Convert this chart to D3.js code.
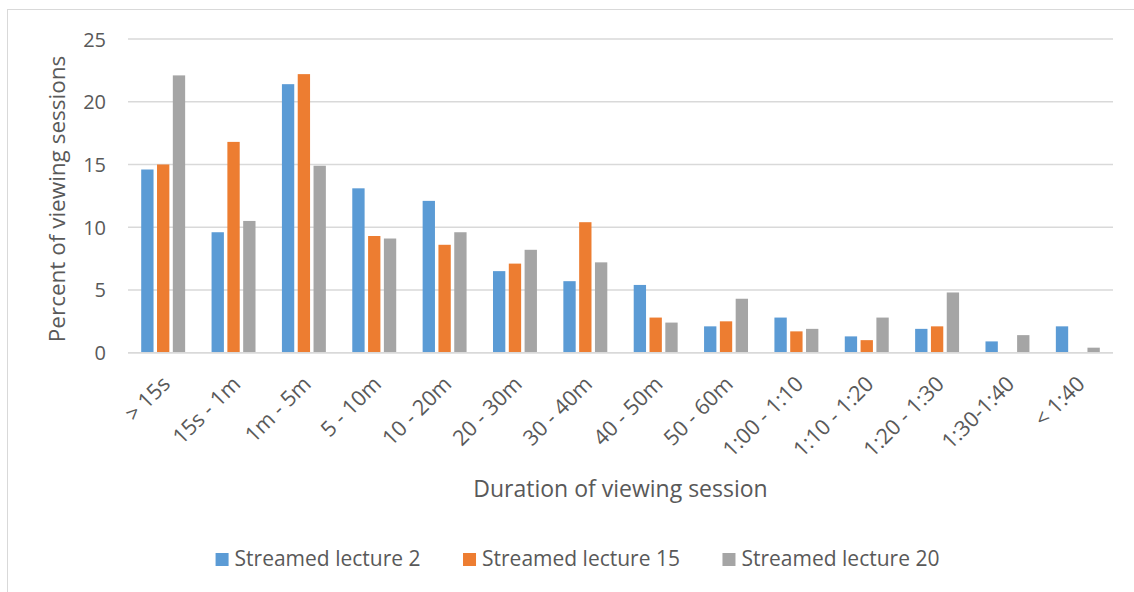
<!DOCTYPE html>
<html>
<head>
<meta charset="utf-8">
<script src="https://cdn.jsdelivr.net/npm/d3@7"></script>
<style>
  html, body { margin: 0; padding: 0; background: #fff; }
  svg { display: block; font-family: "Open Sans", "Noto Sans", sans-serif; }
</style>
</head>
<body>
<svg id="chart" width="1134" height="592"></svg>
<script>
const categories = ["> 15s", "15s - 1m", "1m - 5m", "5 - 10m", "10 - 20m", "20 - 30m", "30 - 40m",
  "40 - 50m", "50 - 60m", "1:00 - 1:10", "1:10 - 1:20", "1:20 - 1:30", "1:30-1:40", "< 1:40"];
const seriesNames = ["Streamed lecture 2", "Streamed lecture 15", "Streamed lecture 20"];
const lecture2  = [14.6, 9.6, 21.4, 13.1, 12.1, 6.5, 5.7, 5.4, 2.1, 2.8, 1.3, 1.9, 0.9, 2.1];
const lecture15 = [15.0, 16.8, 22.2, 9.3, 8.6, 7.1, 10.4, 2.8, 2.5, 1.7, 1.0, 2.1, 0, 0];
const lecture20 = [22.1, 10.5, 14.9, 9.1, 9.6, 8.2, 7.2, 2.4, 4.3, 1.9, 2.8, 4.8, 1.4, 0.4];
const yTicks = [0, 5, 10, 15, 20, 25];
const colors = ["#5B9BD5", "#ED7D31", "#A5A5A5"];
const xTitle = "Duration of viewing session";
const yTitle = "Percent of viewing sessions";

const seriesValues = [lecture2, lecture15, lecture20];
const svg = d3.select("#chart");
const textColor = "#595959";
const gridColor = "#d9d9d9";

// chart border
svg.append("rect").attr("x", 7.5).attr("y", 9.5).attr("width", 1300).attr("height", 700)
  .attr("fill", "none").attr("stroke", gridColor).attr("stroke-width", 1);

const plot = { left: 128, right: 1113, top: 39, bottom: 352.7 };

const x0 = d3.scaleBand().domain(categories).range([plot.left, plot.right])
  .paddingInner(0.326).paddingOuter(0.163);
const x1 = d3.scaleBand().domain(seriesNames).range([0, x0.bandwidth()]);
const y = d3.scaleLinear().domain([0, 25]).range([plot.bottom, plot.top]);

// gridlines
svg.append("g").selectAll("line").data(yTicks).join("line")
  .attr("x1", plot.left).attr("x2", plot.right)
  .attr("y1", d => y(d)).attr("y2", d => y(d))
  .attr("stroke", gridColor).attr("stroke-width", 1.4);

// y axis labels
const yAxis = d3.axisLeft(y).tickValues(yTicks).tickSize(0).tickPadding(0);
const yg = svg.append("g").attr("transform", `translate(106,0)`).call(yAxis);
yg.select(".domain").remove();
yg.selectAll("text").attr("fill", textColor).attr("font-size", 20)
  .attr("font-family", '"Open Sans", sans-serif').attr("dy", "0.35em");

// bars
const barW = x1.bandwidth() * 0.78;
const groups = svg.append("g").selectAll("g").data(categories).join("g")
  .attr("transform", c => `translate(${x0(c)},0)`);
groups.selectAll("rect")
  .data((c, i) => seriesNames.map((s, k) => ({ s, k, v: seriesValues[k][i] })).filter(d => d.v > 0))
  .join("rect")
  .attr("x", d => x1(d.s) + (x1.bandwidth() - barW) / 2)
  .attr("width", barW)
  .attr("y", d => y(d.v))
  .attr("height", d => y(0) - y(d.v))
  .attr("fill", d => colors[d.k]);

// baseline axis
svg.append("line").attr("x1", plot.left).attr("x2", plot.right)
  .attr("y1", y(0)).attr("y2", y(0)).attr("stroke", gridColor).attr("stroke-width", 1.4);

// x labels
const xAxis = d3.axisBottom(x0).tickSize(0).tickPadding(0);
const xg = svg.append("g").call(xAxis);
xg.select(".domain").remove();
xg.selectAll(".tick").attr("transform", d => `translate(${x0(d) + x0.bandwidth() / 2 + 3},380)`);
xg.selectAll(".tick text")
  .attr("fill", textColor).attr("font-size", 21.5)
  .attr("font-family", '"Open Sans", sans-serif')
  .attr("text-anchor", "end").attr("y", 0).attr("dy", "0.35em")
  .attr("transform", "rotate(-45)");

// axis titles
svg.append("text").attr("x", (plot.left + plot.right) / 2).attr("y", 497)
  .attr("text-anchor", "middle").attr("fill", textColor).attr("font-size", 23).text(xTitle);
svg.append("text").attr("transform", `translate(65,199) rotate(-90)`)
  .attr("text-anchor", "middle").attr("fill", textColor).attr("font-size", 22.5).text(yTitle);

// legend
const legend = svg.append("g");
const items = legend.selectAll("g").data(seriesNames).join("g");
items.append("rect").attr("width", 13).attr("height", 13).attr("y", -13)
  .attr("fill", (d, i) => colors[i]);
items.append("text").attr("x", 19).attr("y", 0).attr("fill", textColor)
  .attr("font-size", 21).text(d => d);
let cx = 0;
const offsets = [];
items.each(function () {
  const w = this.querySelector("text").getComputedTextLength() + 19;
  offsets.push(cx);
  cx += w + 42.5;
});
const total = cx - 42.5;
const startX = 577.5 - total / 2;
items.attr("transform", (d, i) => `translate(${startX + offsets[i]},566)`);
</script>
</body>
</html>
